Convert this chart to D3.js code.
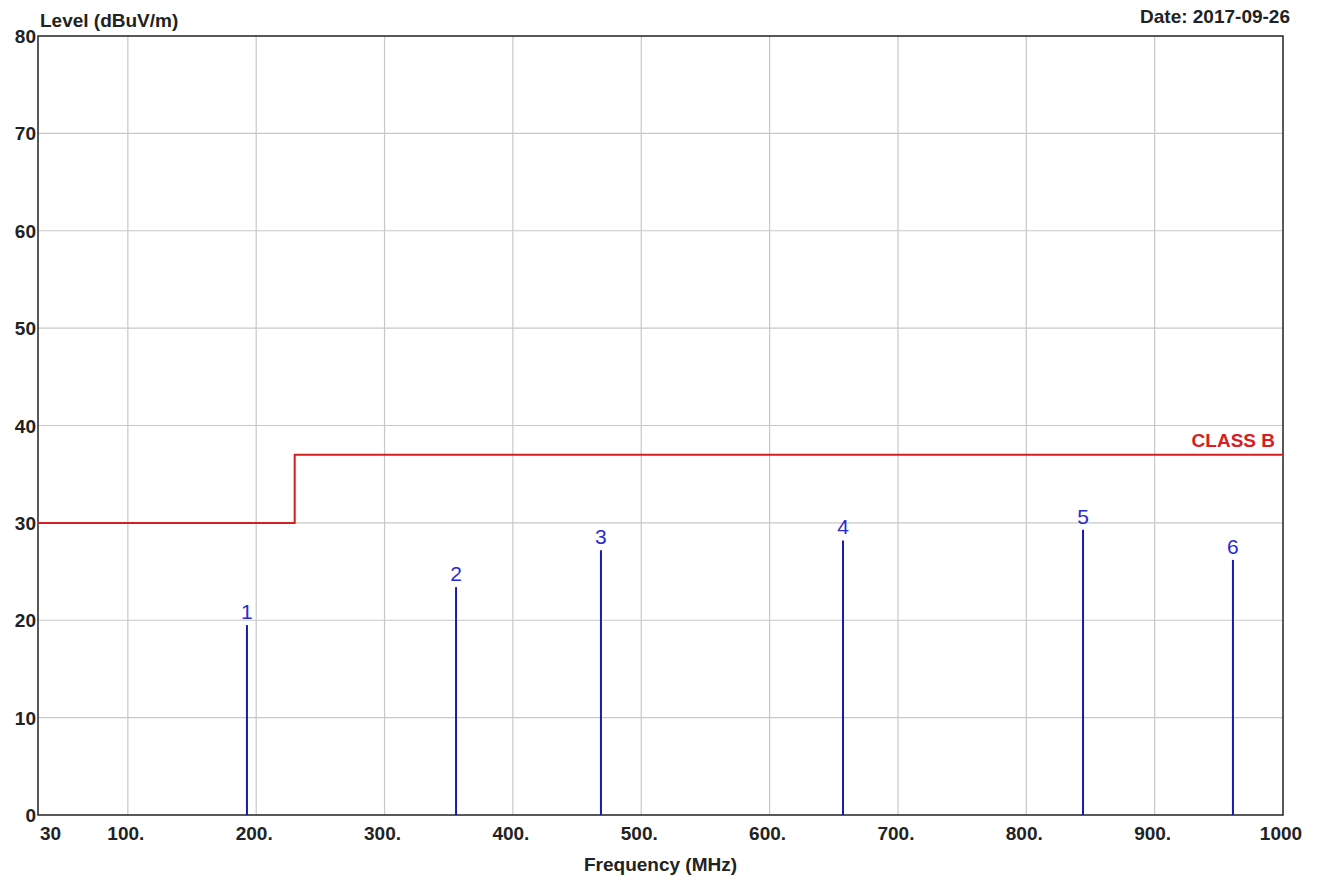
<!DOCTYPE html>
<html><head><meta charset="utf-8">
<script src="https://cdn.jsdelivr.net/npm/d3@7"></script>
<style>body{margin:0;background:#fff}text{font-family:"Liberation Sans",Arial,sans-serif}</style>
</head><body>
<svg id="chart" width="1322" height="880"></svg>
<script>
// tick labels
var xTicks = [30, 100, 200, 300, 400, 500, 600, 700, 800, 900, 1000];
var xTickLabels = ["30", "100.", "200.", "300.", "400.", "500.", "600.", "700.", "800.", "900.", "1000"];
var yTicks = [0, 10, 20, 30, 40, 50, 60, 70, 80];
// limit line (CLASS B)
var limitFreq = [30, 230, 230, 1000];
var limitLevel = [30, 30, 37, 37];
// peaks
var peakIds = ["1", "2", "3", "4", "5", "6"];
var peakFreq = [192.8, 355.7, 468.6, 657.2, 844.2, 961];
var peakLevel = [19.5, 23.4, 27.2, 28.2, 29.3, 26.2];

var svg = d3.select("#chart");
var pLeft = 38, pRight = 1283, pTop = 36, pBottom = 815;
var x = d3.scaleLinear().domain([30, 1000]).range([pLeft, pRight]);
var y = d3.scaleLinear().domain([0, 80]).range([pBottom, pTop]);

// grid
svg.append("g").selectAll("line").data(xTicks.slice(1, -1)).enter().append("line")
  .attr("x1", d => x(d)).attr("x2", d => x(d)).attr("y1", pTop).attr("y2", pBottom)
  .attr("stroke", "#c8c8c8").attr("stroke-width", 1.2);
svg.append("g").selectAll("line").data(yTicks.slice(1, -1)).enter().append("line")
  .attr("x1", pLeft).attr("x2", pRight).attr("y1", d => y(d)).attr("y2", d => y(d))
  .attr("stroke", "#c8c8c8").attr("stroke-width", 1.2);

svg.append("rect").attr("x", pLeft).attr("y", pTop).attr("width", pRight - pLeft).attr("height", pBottom - pTop)
  .attr("fill", "none").attr("stroke", "#222").attr("stroke-width", 1.5);

// axes labels
svg.append("g").selectAll("text").data(yTicks).enter().append("text")
  .attr("x", pLeft - 2).attr("y", d => y(d) + 7).attr("text-anchor", "end")
  .attr("font-size", 19).attr("font-weight", "bold").attr("fill", "#222").text(d => d);
svg.append("g").selectAll("text").data(xTicks).enter().append("text")
  .attr("x", (d, i) => i == 0 ? x(d) + 2 : x(d) - 2).attr("y", pBottom + 25)
  .attr("text-anchor", (d, i) => i == 0 ? "start" : "middle")
  .attr("font-size", 19).attr("font-weight", "bold").attr("fill", "#222").text((d, i) => xTickLabels[i]);

svg.append("text").attr("x", 40).attr("y", 27).attr("font-size", 19).attr("font-weight", "bold").attr("fill", "#222").text("Level (dBuV/m)");
svg.append("text").attr("x", 1290).attr("y", 23).attr("text-anchor", "end").attr("font-size", 19).attr("font-weight", "bold").attr("fill", "#222").text("Date: 2017-09-26");
svg.append("text").attr("x", (pLeft + pRight) / 2).attr("y", 871).attr("text-anchor", "middle").attr("font-size", 19).attr("font-weight", "bold").attr("fill", "#222").text("Frequency (MHz)");

// limit
var line = d3.line().x(d => x(d[0])).y(d => y(d[1]));
svg.append("path").datum(limitFreq.map((f, i) => [f, limitLevel[i]]))
  .attr("d", line).attr("fill", "none").attr("stroke", "#d42020").attr("stroke-width", 2);
svg.append("text").attr("x", 1275).attr("y", y(37) - 8).attr("text-anchor", "end")
  .attr("font-size", 19).attr("font-weight", "bold").attr("fill", "#d42020").text("CLASS B");

// peaks
var g = svg.append("g");
peakIds.forEach(function (id, i) {
  g.append("line").attr("x1", x(peakFreq[i])).attr("x2", x(peakFreq[i]))
    .attr("y1", y(0)).attr("y2", y(peakLevel[i])).attr("stroke", "#1a1aa8").attr("stroke-width", 2);
  g.append("text").attr("x", x(peakFreq[i])).attr("y", y(peakLevel[i]) - 6).attr("text-anchor", "middle")
    .attr("font-size", 21).attr("fill", "#2a2ad0").text(id);
});
</script>
</body></html>
